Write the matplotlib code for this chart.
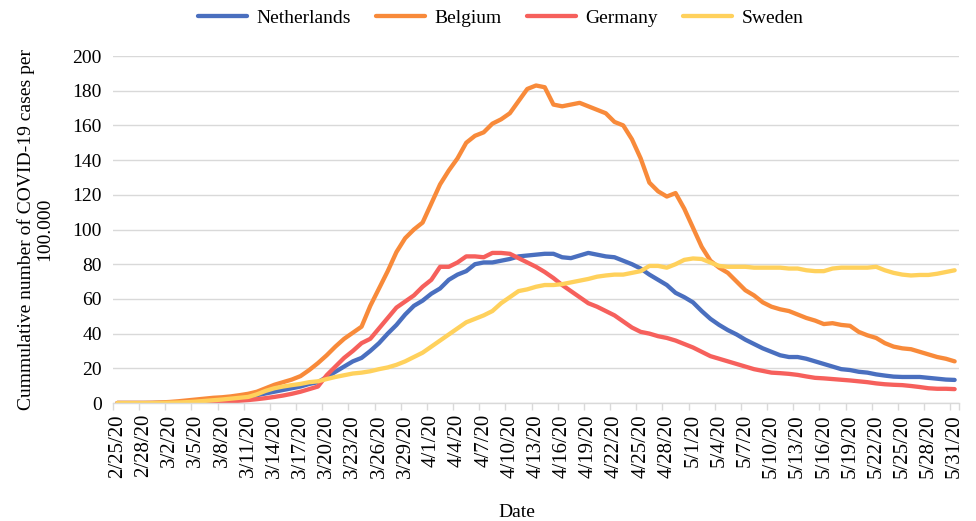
import numpy as np
import pandas as pd
import matplotlib
matplotlib.use("Agg")
import matplotlib.pyplot as plt
from matplotlib.ticker import FixedLocator

dates = pd.date_range("2020-02-25", "2020-05-31", freq="D")
date_labels = [f"{d.month}/{d.day}/20" for d in dates]

netherlands = [
    0, 0, 0, 0, 0, 0.1, 0.2, 0.3, 0.5, 0.7,
    1, 1.3, 1.7, 2.2, 2.8, 3.5, 4.5, 5.5, 6.5, 7.5,
    8.5, 9.5, 11, 12, 15, 18, 21, 24, 26, 30,
    34.5, 40, 45, 51, 56, 59, 63, 66, 71, 74,
    76, 80, 81, 81, 82, 83, 84.5, 85, 85.5, 86,
    86, 84, 83.5, 85, 86.5, 85.5, 84.5, 84, 82, 80,
    77.5, 74, 71, 68, 63.5, 61, 58, 53, 48.5, 45,
    42, 39.5, 36.5, 34, 31.5, 29.5, 27.5, 26.5, 26.5, 25.5,
    24, 22.5, 21, 19.5, 19, 18, 17.5, 16.5, 15.8, 15.2,
    15, 15, 15, 14.5, 14, 13.5, 13.3,
]
belgium = [
    0, 0, 0, 0, 0.1, 0.3, 0.6, 1, 1.5, 2,
    2.5, 3, 3.3, 3.8, 4.5, 5.3, 6.5, 8.5, 10.5, 12,
    13.5, 15.5, 19, 23, 27.5, 32.5, 37, 40.5, 44, 56,
    66, 76, 87, 95, 100, 104, 115, 126, 134, 141,
    150, 154, 156, 161, 163.5, 167, 174, 181, 183, 182,
    172, 171, 172, 173, 171, 169, 167, 162, 160, 152,
    141, 127, 122, 119, 121, 112, 101, 90, 82, 78,
    75, 70, 65, 62, 58, 55.5, 54, 53, 51, 49,
    47.5, 45.5, 46, 45, 44.5, 41, 39, 37.5, 34.5, 32.5,
    31.5, 31, 29.5, 28, 26.5, 25.5, 24,
]
germany = [
    0, 0, 0, 0, 0, 0, 0, 0, 0.1, 0.2,
    0.3, 0.5, 0.7, 1, 1.3, 1.7, 2.2, 2.8, 3.5, 4.3,
    5.3, 6.5, 8, 9.5, 16, 21, 26, 30, 34.5, 37,
    43, 49, 55, 58.5, 62, 67, 71, 78.5, 78.5, 81,
    84.5, 84.5, 84, 86.5, 86.5, 86, 83.5, 81, 78.5, 75.5,
    72, 68, 64.5, 61, 57.5, 55.5, 53, 50.5, 47, 43.5,
    41, 40, 38.5, 37.5, 36, 34, 32, 29.5, 27, 25.5,
    24, 22.5, 21, 19.5, 18.5, 17.5, 17.2, 16.8, 16.2, 15.3,
    14.5, 14.2, 13.8, 13.4, 13, 12.5, 12, 11.3, 10.8, 10.5,
    10.3, 9.8, 9.2, 8.5, 8.2, 8.2, 8,
]
sweden = [
    0, 0, 0, 0, 0, 0.1, 0.2, 0.3, 0.5, 0.8,
    1.2, 1.6, 2, 2.5, 3, 3.5, 5, 7, 8.5, 9.5,
    10.3, 11, 12, 12.5, 13.8, 15, 16, 17, 17.5, 18.3,
    19.5, 20.5, 22, 24, 26.5, 29, 32.5, 36, 39.5, 43,
    46.5, 48.5, 50.5, 53, 57.5, 61, 64.5, 65.5, 67, 68,
    68, 68.5, 69.5, 70.5, 71.5, 72.8, 73.5, 74, 74, 75,
    76, 79, 79, 78, 80, 82.5, 83.3, 83, 81, 79,
    78.5, 78.5, 78.5, 78, 78, 78, 78, 77.5, 77.5, 76.5,
    76, 76, 77.5, 78, 78, 78, 78, 78.5, 76.5, 75,
    74, 73.5, 73.8, 73.8, 74.5, 75.5, 76.5,
]

series = [
    ("Netherlands", netherlands, "#4A6FBF"),
    ("Belgium", belgium, "#F88A3A"),
    ("Germany", germany, "#F6605C"),
    ("Sweden", sweden, "#FFD15C"),
]

plt.rcParams["font.family"] = ["Liberation Serif", "DejaVu Serif"]

fig = plt.figure(figsize=(9.76, 5.21), dpi=100)
ax = fig.add_axes([113 / 976, 118 / 521, 846 / 976, 347 / 521])

x = np.arange(len(dates)) + 0.5
for name, values, color in series:
    ax.plot(x, values, color=color, linewidth=3.1, label=name,
            solid_capstyle="round", solid_joinstyle="round")

ax.set_xlim(0, len(dates))
ax.set_ylim(0, 200)
ax.set_yticks(np.arange(0, 201, 20))
ax.grid(axis="y", color="#D9D9D9", linewidth=1)
ax.set_axisbelow(True)

label_idx = np.arange(0, len(dates), 3)
ax.set_xticks(label_idx + 0.5)
ax.set_xticklabels([date_labels[i] for i in label_idx], rotation=90, fontsize=15)
ax.xaxis.set_minor_locator(FixedLocator(list(label_idx) + [len(dates)]))
ax.tick_params(axis="x", which="major", length=0, pad=8)
ax.tick_params(axis="x", which="minor", length=5, color="#D9D9D9", width=1)
ax.tick_params(axis="y", length=0, labelsize=14, pad=8)

for side in ["left", "right", "top"]:
    ax.spines[side].set_visible(False)
ax.spines["bottom"].set_color("#D9D9D9")
ax.spines["bottom"].set_linewidth(1)

ax.set_xlabel("Date", fontsize=14)
ax.xaxis.set_label_coords(0.4775, -0.29)
ax.set_ylabel("Cummulative number of COVID-19 cases per\n100.000", fontsize=14,
              labelpad=14, linespacing=1.1)

fig.legend(loc="center", bbox_to_anchor=(0.513, 0.965), ncol=4, frameon=False,
           fontsize=14, handlelength=2.5, handletextpad=0.5, columnspacing=1.3)

fig.savefig("out.png", dpi=100)
